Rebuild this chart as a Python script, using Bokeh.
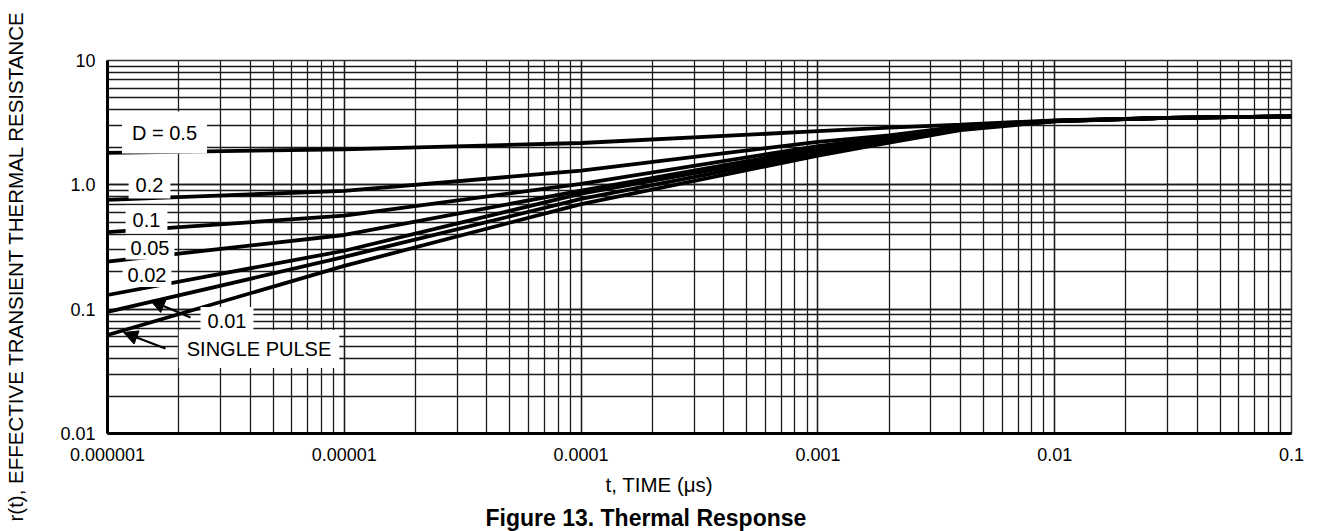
import math
from bokeh.plotting import figure
from bokeh.models import Label, Arrow, NormalHead, LogTicker, Title
from bokeh.embed import file_html
from bokeh.resources import INLINE

# ---- data ----
t = [1e-6, 1e-5, 1e-4, 1e-3, 2e-3, 4e-3, 1e-2, 3e-2, 1e-1]
r_d05 = [1.81, 1.93, 2.17, 2.70, 2.88, 3.05, 3.30, 3.45, 3.55]
r_d02 = [0.757, 0.895, 1.30, 2.22, 2.50, 2.95, 3.28, 3.45, 3.55]
r_d01 = [0.416, 0.565, 1.02, 2.05, 2.42, 2.90, 3.27, 3.45, 3.55]
r_d005 = [0.241, 0.395, 0.90, 1.96, 2.36, 2.86, 3.26, 3.45, 3.55]
r_d002 = [0.130, 0.295, 0.85, 1.88, 2.30, 2.82, 3.25, 3.45, 3.55]
r_d001 = [0.095, 0.263, 0.77, 1.80, 2.24, 2.79, 3.25, 3.45, 3.55]
r_single = [0.062, 0.223, 0.70, 1.72, 2.18, 2.76, 3.24, 3.45, 3.55]
series = [r_d05, r_d02, r_d01, r_d005, r_d002, r_d001, r_single]

x_ticks = [1e-6, 1e-5, 1e-4, 1e-3, 1e-2, 1e-1]
x_tick_labels = ["0.000001", "0.00001", "0.0001", "0.001", "0.01", "0.1"]
y_ticks = [0.01, 0.1, 1.0, 10.0]
y_tick_labels = ["0.01", "0.1", "1.0", "10"]

FONT = "Liberation Sans"

# ---- layout ----
W, H = 1320, 531
FL, FR, FT, FB = 107, 1291, 60, 433  # frame edges in pixels

p = figure(width=W, height=H, x_axis_type="log", y_axis_type="log",
           x_range=(1e-6, 1e-1), y_range=(0.01, 10),
           output_backend="svg", toolbar_location=None,
           min_border_left=FL, min_border_right=W - FR,
           min_border_top=FT, min_border_bottom=H - FB)
p.background_fill_color = "white"
p.border_fill_color = "white"
p.outline_line_color = "#333333"
p.outline_line_width = 1.5

p.xaxis.ticker = LogTicker(num_minor_ticks=10)
p.yaxis.ticker = LogTicker(num_minor_ticks=10)
p.xaxis.major_label_overrides = {v: s for v, s in zip(x_ticks, x_tick_labels)}
p.yaxis.major_label_overrides = {v: s for v, s in zip(y_ticks, y_tick_labels)}

for ax in (p.xaxis, p.yaxis):
    ax.axis_line_width = 3
    ax.axis_line_color = "black"
    ax.major_tick_line_color = None
    ax.minor_tick_line_color = None
    ax.major_tick_out = 0
    ax.major_label_text_font = FONT
    ax.major_label_text_font_size = "18px"
    ax.major_label_text_color = "black"
p.xaxis.major_label_standoff = 10
p.yaxis.major_label_standoff = 8

for g in (p.xgrid, p.ygrid):
    g.grid_line_color = "#1a1a1a"
    g.grid_line_width = 1.3
    g.minor_grid_line_color = "#1a1a1a"
    g.minor_grid_line_width = 1.3

for s in series:
    p.line(t, s, line_color="black", line_width=3.8)

# pixel -> data helpers for annotation placement
def px_x(px):
    return 10 ** (math.log10(1e-6) + (px - FL) / (FR - FL) * 5)

def px_y(py):
    return 10 ** (math.log10(10) - (py - FT) / (FB - FT) * 3)

labels = [("D = 0.5", 164, 132, 10), ("0.2", 149, 184, 7), ("0.1", 146, 219, 7),
          ("0.05", 149.5, 247, 5), ("0.02", 146.5, 274.5, 5),
          ("0.01", 226.5, 320.5, 7), ("SINGLE PULSE", 258.5, 348.5, 8)]
for txt, lx, ly, pad in labels:
    p.add_layout(Label(x=px_x(lx), y=px_y(ly), text=txt, text_font=FONT,
                       text_font_size="20px", text_align="center",
                       text_baseline="middle", text_color="black",
                       background_fill_color="white", padding=pad))

for (x0, y0, x1, y1) in [(190, 317, 150, 300), (165, 348, 123, 332)]:
    p.add_layout(Arrow(x_start=px_x(x0), y_start=px_y(y0), x_end=px_x(x1), y_end=px_y(y1),
                       line_width=2, line_color="black",
                       end=NormalHead(size=14, fill_color="black", line_color="black")))

# axis titles and figure caption (side panels)
xlab = Title(text="t, TIME (\u03bcs)", align="left", offset=498, standoff=14,
             text_font=FONT, text_font_size="20.5px", text_font_style="normal",
             text_color="black")
p.add_layout(xlab, "below")
cap = Title(text="Figure 13. Thermal Response", align="left", offset=378, standoff=0,
            text_font=FONT, text_font_size="23px", text_font_style="bold",
            text_color="black")
p.add_layout(cap, "below")

# spacer so that the vertical axis title sits near the left edge
spacer = Title(text=" ", standoff=28, text_font_size="1px")
p.add_layout(spacer, "left")
ylab = Title(text="r(t), EFFECTIVE TRANSIENT THERMAL RESISTANCE", align="left",
             offset=-88, standoff=0, text_font=FONT,
             text_font_size="20.5px", text_font_style="normal", text_color="black")
p.add_layout(ylab, "left")

open("out.html", "w").write(file_html(p, INLINE))
